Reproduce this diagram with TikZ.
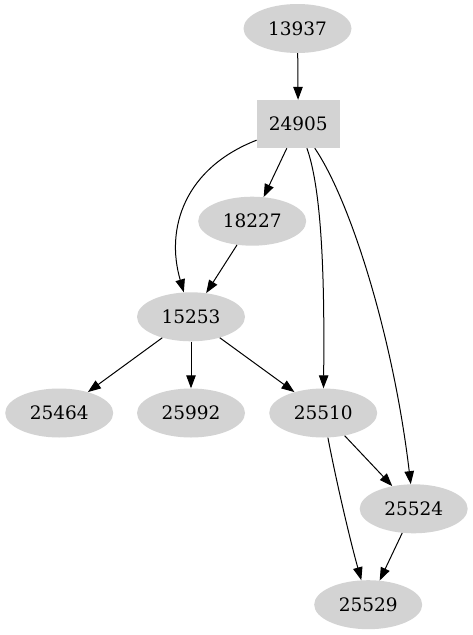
\documentclass[tikz,border=0pt]{standalone}
\usepackage{fontspec}
\setmainfont{DejaVu Serif}
\usepackage{tikz}
\usetikzlibrary{arrows.meta,shapes.geometric}
\definecolor{ink}     {HTML}{000000}
\definecolor{nodegrey}{HTML}{D3D3D3}
\tikzset{
  >={Triangle[length=13pt,width=9.5pt]},
  every node/.style={font=\fontsize{18.5}{22}\selectfont},
  % --- nodes
  gnode/.style = {ellipse, fill=nodegrey, minimum width=108pt, minimum height=49pt,
                  inner sep=0pt},
  gbox/.style  = {rectangle, fill=nodegrey, minimum width=83pt, minimum height=48pt,
                  inner sep=0pt},
  % --- edges
  e/.style     = {->, line width=1pt, draw=ink},
}

\begin{document}
\begin{tikzpicture}[x=1pt,y=-1pt]
  \useasboundingbox (0,0) rectangle (473,635);
  % ellipse nodes, rank by rank
  \foreach \n/\x/\y in {
    13937/297.5/28.5,
    18227/252.2/221.2,
    15253/191/316.8,
    25464/59.2/413,
    25992/191/413,
    25510/323.2/413,
    25524/413.7/508.8,
    25529/368.2/604.7}
  {
    \node[gnode] (n\n) at (\x,\y) {\n};
  }
  \node[gbox] (n24905) at (298.3,124) {24905};
  % straight edges
  \draw[e] (n13937) -- (n24905);
  \draw[e] (n24905) -- (n18227);
  \draw[e] (n18227) -- (n15253);
  \draw[e] (n15253) -- (n25464);
  \draw[e] (n15253) -- (n25992);
  \draw[e] (n15253) -- (n25510);
  \draw[e] (n25510) -- (n25524);
  \draw[e] (n25524) -- (n25529);
  % curved edges
  \draw[e] (n24905) .. controls (185,168) and (165,228) .. (n15253);
  \draw[e] (n24905) .. controls (320,185) and (325,260) .. (n25510);
  \draw[e] (n24905) .. controls (350,200) and (393,335) .. (n25524);
  \draw[e] (n25510) .. controls (336,480) and (350,540) .. (n25529);
\end{tikzpicture}
\end{document}
